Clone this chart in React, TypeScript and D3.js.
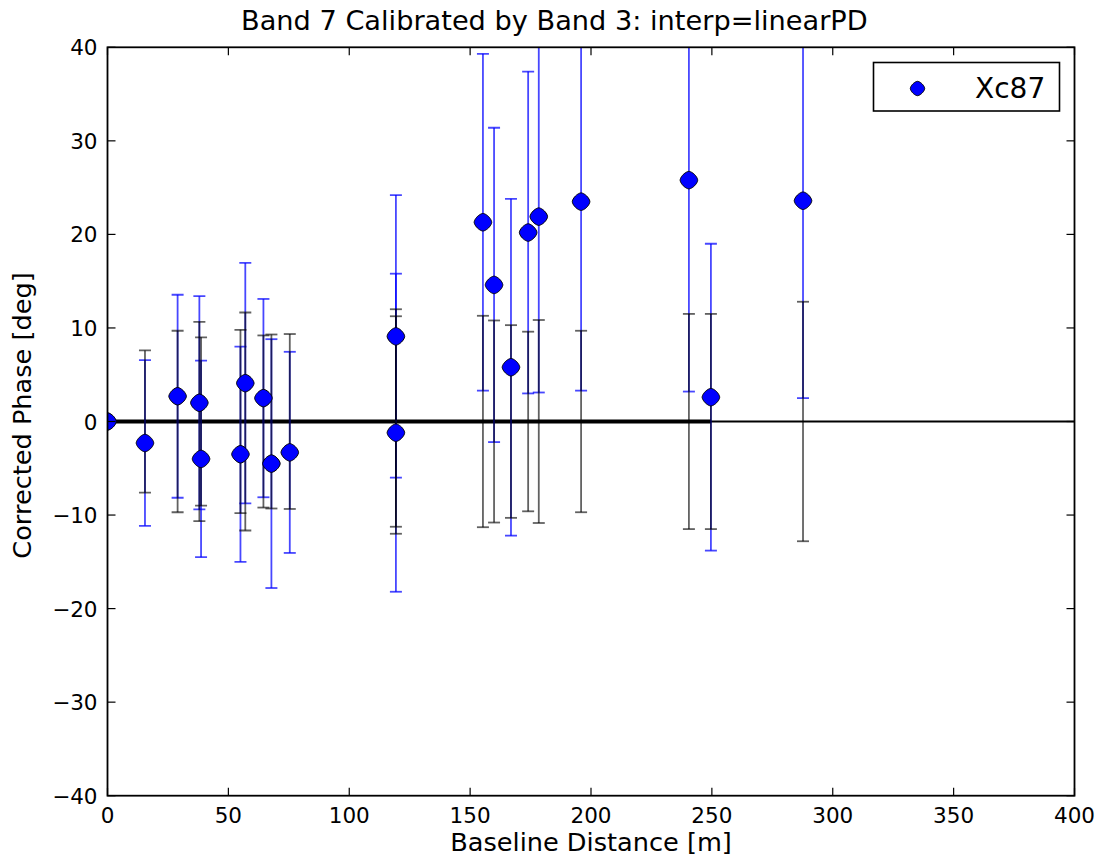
import React from "react";
import * as d3 from "d3";

const baselines = [0, 15.5, 29.0, 38.0, 38.7, 55.0, 57.0, 64.5, 67.8, 75.4, 119.3, 119.3, 155.3, 159.9, 166.9, 174.0, 178.4, 195.9, 240.5, 249.6, 287.7];
const phases = [0, -2.3, 2.7, 2.0, -4.0, -3.5, 4.1, 2.5, -4.5, -3.3, 9.1, -1.2, 21.3, 14.6, 5.8, 20.2, 21.9, 23.5, 25.8, 2.6, 23.6];
const phaseErrs = [0, 8.85, 10.85, 11.4, 10.5, 11.5, 12.85, 10.6, 13.3, 10.75, 15.1, 17.0, 18.0, 16.8, 18.0, 17.2, 18.8, 20.2, 22.6, 16.4, 21.1];
const refErrs = [0, 7.6, 9.7, 10.65, 9.0, 9.8, 11.65, 9.2, 9.3, 9.35, 12.0, 11.25, 11.3, 10.8, 10.3, 9.6, 10.85, 9.7, 11.5, 11.5, 12.8];
const xTicks = [0, 50, 100, 150, 200, 250, 300, 350, 400];
const yTicks = [-40, -30, -20, -10, 0, 10, 20, 30, 40];
const refLineEnd = 249.6;
const seriesName = "Xc87";

const W = 1102, H = 861;
const L = 107.5, R = 1074.5, T = 47.3, B = 795.7;
const FONT = "DejaVu Sans, sans-serif";

function markerPath(r: number) {
  const n = 48, p = 1.55;
  const pts: string[] = [];
  for (let i = 0; i < n; i++) {
    const a = (i / n) * Math.PI * 2;
    const c = Math.cos(a), s = Math.sin(a);
    const x = Math.sign(c) * Math.pow(Math.abs(c), 2 / p) * r;
    const y = Math.sign(s) * Math.pow(Math.abs(s), 2 / p) * r;
    pts.push(`${x.toFixed(2)},${y.toFixed(2)}`);
  }
  return "M" + pts.join("L") + "Z";
}

export default function App() {
  const x = d3.scaleLinear().domain([0, 400]).range([L, R]);
  const y = d3.scaleLinear().domain([-40, 40]).range([B, T]);
  const cap = 6;
  const mk = markerPath(8.8);
  const mkL = markerPath(7.2);
  return (
    <svg width={W} height={H} style={{ display: "block", position: "absolute", left: 0, top: 0, background: "#fff" }}>
      <defs>
        <clipPath id="plotclip">
          <rect x={L} y={T} width={R - L} height={B - T} />
        </clipPath>
      </defs>
      <rect x={0} y={0} width={W} height={H} fill="#fff" />
      <g clipPath="url(#plotclip)">
        <line x1={L} x2={R} y1={y(0)} y2={y(0)} stroke="#000" strokeWidth={1.8} />
        <line x1={x(0)} x2={x(refLineEnd)} y1={y(0)} y2={y(0)} stroke="#000" strokeWidth={3.8} />
        {baselines.map((b, i) => phaseErrs[i] > 0 && (
          <g key={"b" + i} stroke="#0000ff" strokeOpacity={0.72} strokeWidth={1.8} fill="none">
            <line x1={x(b)} x2={x(b)} y1={y(phases[i] - phaseErrs[i])} y2={y(phases[i] + phaseErrs[i])} />
            <line x1={x(b) - cap} x2={x(b) + cap} y1={y(phases[i] + phaseErrs[i])} y2={y(phases[i] + phaseErrs[i])} />
            <line x1={x(b) - cap} x2={x(b) + cap} y1={y(phases[i] - phaseErrs[i])} y2={y(phases[i] - phaseErrs[i])} />
          </g>
        ))}
        {baselines.map((b, i) => refErrs[i] > 0 && (
          <g key={"k" + i} stroke="#000" strokeOpacity={0.62} strokeWidth={1.8} fill="none">
            <line x1={x(b)} x2={x(b)} y1={y(-refErrs[i])} y2={y(refErrs[i])} />
            <line x1={x(b) - cap} x2={x(b) + cap} y1={y(refErrs[i])} y2={y(refErrs[i])} />
            <line x1={x(b) - cap} x2={x(b) + cap} y1={y(-refErrs[i])} y2={y(-refErrs[i])} />
          </g>
        ))}
        {baselines.map((b, i) => (
          <path key={"m" + i} d={mk} transform={`translate(${x(b)},${y(phases[i])})`} fill="#0000ff" stroke="#000" strokeWidth={1} />
        ))}
      </g>
      <rect x={L} y={T} width={R - L} height={B - T} fill="none" stroke="#000" strokeWidth={1.8} />
      {xTicks.map((t) => (
        <g key={"xt" + t}>
          <line x1={x(t)} x2={x(t)} y1={B} y2={B - 8} stroke="#000" strokeWidth={1.2} />
          <line x1={x(t)} x2={x(t)} y1={T} y2={T + 8} stroke="#000" strokeWidth={1.2} />
          <text x={x(t)} y={B + 27} textAnchor="middle" fontFamily={FONT} fontSize={21.5} fill="#000">{t}</text>
        </g>
      ))}
      {yTicks.map((t) => (
        <g key={"yt" + t}>
          <line x1={L} x2={L + 8} y1={y(t)} y2={y(t)} stroke="#000" strokeWidth={1.2} />
          <line x1={R} x2={R - 8} y1={y(t)} y2={y(t)} stroke="#000" strokeWidth={1.2} />
          <text x={L - 10} y={y(t) + 8} textAnchor="end" fontFamily={FONT} fontSize={21.5} fill="#000">{t < 0 ? "\u2212" + Math.abs(t) : String(t)}</text>
        </g>
      ))}
      <text x={(L + R) / 2} y={851} textAnchor="middle" fontFamily={FONT} fontSize={25.6} fill="#000">Baseline Distance [m]</text>
      <text transform={`translate(31,${(T + B) / 2 - 6}) rotate(-90)`} textAnchor="middle" fontFamily={FONT} fontSize={25.6} fill="#000">Corrected Phase [deg]</text>
      <text x={241} y={29.5} textAnchor="start" fontFamily={FONT} fontSize={27.2} fill="#000">Band 7 Calibrated by Band 3: interp=linearPD</text>
      <rect x={873.5} y={62.5} width={186} height={48.5} fill="#fff" stroke="#000" strokeWidth={1.6} />
      <path d={mkL} transform="translate(917.5,88.5)" fill="#0000ff" stroke="#000" strokeWidth={1} />
      <text x={975} y={97.5} fontFamily={FONT} fontSize={28} fill="#000">{seriesName}</text>
    </svg>
  );
}
